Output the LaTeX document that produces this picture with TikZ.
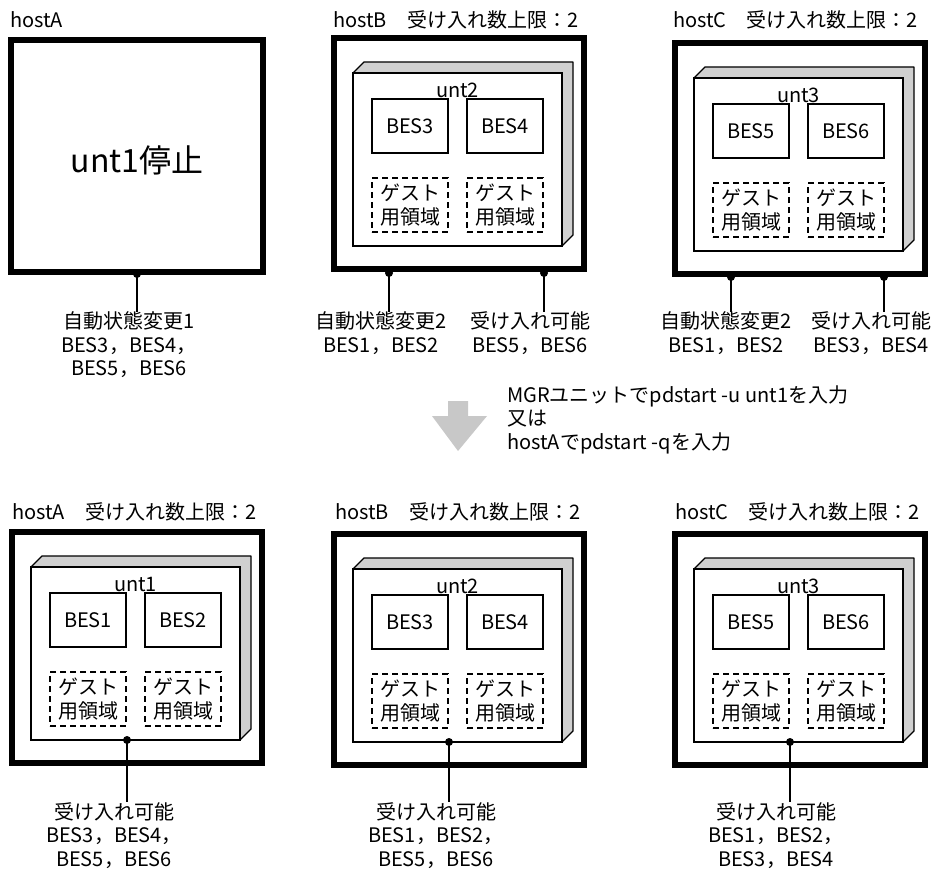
\documentclass[tikz,border=0pt]{standalone}
\usepackage{fontspec}
\setmainfont{Noto Sans CJK JP}
\definecolor{bevelgray}{HTML}{D0D0D0}
\definecolor{arrowgray}{HTML}{C8C8C8}
\tikzset{
  txt/.style={font=\fontsize{20}{23.5}\selectfont, inner sep=0pt},
  hostbox/.style={draw, line width=5.5pt, minimum width=250pt, minimum height=231pt, inner sep=0pt, outer sep=0pt, anchor=north west},
  unitbox/.style={draw, fill=white, line width=1.3pt, minimum width=209pt, minimum height=173pt, inner sep=0pt, outer sep=0pt, anchor=north west},
  besbox/.style={draw, line width=1.3pt, minimum width=76pt, minimum height=54pt, inner sep=0pt, outer sep=0pt, anchor=north west, font=\fontsize{20}{23.5}\selectfont},
  guestbox/.style={draw, dashed, dash pattern=on 6pt off 4pt, line width=1.3pt, minimum width=76pt, minimum height=54pt, inner sep=0pt, outer sep=0pt, anchor=north west, align=center, font=\fontsize{20}{24}\selectfont},
  bevel/.style={fill=bevelgray, draw=black, line width=1.3pt, line join=round},
  conn/.style={line width=1.3pt},
  dotmark/.style={circle, fill=black, inner sep=0pt, minimum size=8pt},
  lbl/.style={txt, align=center, anchor=north},
  title/.style={txt, anchor=base west},
}
\newcommand\hostunit[6]{%
  \begin{scope}[shift={(#2,#3)}]
    \node[hostbox] (#1) at (0,0) {};
    \path[bevel] (19,35) -- (30,24) -- (239,24) -- (239,197) -- (228,208) -- (228,35) -- cycle;
    \node[unitbox] (#1u) at (19,35) {};
    \node[txt] (#1n) at (123.5,52) {#4};
    \node[besbox] (#1a) at (38,61) {#5};
    \node[besbox] (#1b) at (133,61) {#6};
    \node[guestbox] (#1g) at (38,140) {ゲスト\\用領域};
    \node[guestbox] (#1h) at (133,140) {ゲスト\\用領域};
  \end{scope}}
\begin{document}
\begin{tikzpicture}[x=1pt,y=-1pt]
\useasboundingbox (0,0) rectangle (934,872);
\fill[white] (0,0) rectangle (934,872);

% ---------- top row ----------
\node[title] (tAt) at (10,28) {hostA};
\node[title] (tBt) at (333,28) {hostB　受け入れ数上限：2};
\node[title] (tCt) at (673,28) {hostC　受け入れ数上限：2};

\node[hostbox, minimum width=252pt, minimum height=232pt] (tA) at (11,40) {};
\node[font=\fontsize{32}{36}\selectfont, inner sep=0pt] (tAs) at (137,160) {unt1停止};

\hostunit{tB}{334}{38}{unt2}{BES3}{BES4}
\hostunit{tC}{675}{43}{unt3}{BES5}{BES6}

\node[dotmark] (tAd) at (137,274) {};
\node[dotmark] (tBd1) at (389,273) {};
\node[dotmark] (tBd2) at (544,273) {};
\node[dotmark] (tCd1) at (731,277) {};
\node[dotmark] (tCd2) at (884,277) {};

\node[lbl] (tAl) at (129,311.5) {自動状態変更1\\BES3，BES4，\\BES5，BES6};
\node[lbl] (tBl1) at (381,311.5) {自動状態変更2\\BES1，BES2};
\node[lbl] (tBl2) at (530,311.5) {受け入れ可能\\BES5，BES6};
\node[lbl] (tCl1) at (726,311.5) {自動状態変更2\\BES1，BES2};
\node[lbl] (tCl2) at (871,311.5) {受け入れ可能\\BES3，BES4};

\foreach \d/\l in {tAd/tAl, tBd1/tBl1, tBd2/tBl2, tCd1/tCl1, tCd2/tCl2}{
  \draw[conn] (\d.center) -- (\d.center |- \l.north);
}

% ---------- arrow and command text ----------
\fill[arrowgray] (448,401) -- (468,401) -- (468,416) -- (487,416) -- (458,451) -- (432,416) -- (448,416) -- cycle;
\node[txt, align=left, anchor=north west] (cmd) at (507,385.5) {MGRユニットでpdstart -u unt1を入力\\又は\\hostAでpdstart -qを入力};

% ---------- bottom row ----------
\node[title] (bAt) at (12,519) {hostA　受け入れ数上限：2};
\node[title] (bBt) at (335,519) {hostB　受け入れ数上限：2};
\node[title] (bCt) at (675,519) {hostC　受け入れ数上限：2};

\hostunit{bA}{12}{532}{unt1}{BES1}{BES2}
\hostunit{bB}{334}{534}{unt2}{BES3}{BES4}
\hostunit{bC}{675}{534}{unt3}{BES5}{BES6}

\node[dotmark] (bAd) at (127,740) {};
\node[dotmark] (bBd) at (449,742) {};
\node[dotmark] (bCd) at (790,742) {};

\node[lbl] (bAl) at (114,802) {受け入れ可能\\BES3，BES4，\\BES5，BES6};
\node[lbl] (bBl) at (436,802) {受け入れ可能\\BES1，BES2，\\BES5，BES6};
\node[lbl] (bCl) at (776,802) {受け入れ可能\\BES1，BES2，\\BES3，BES4};

\foreach \d/\l in {bAd/bAl, bBd/bBl, bCd/bCl}{
  \draw[conn] (\d.center) -- (\d.center |- \l.north);
}
\end{tikzpicture}
\end{document}
